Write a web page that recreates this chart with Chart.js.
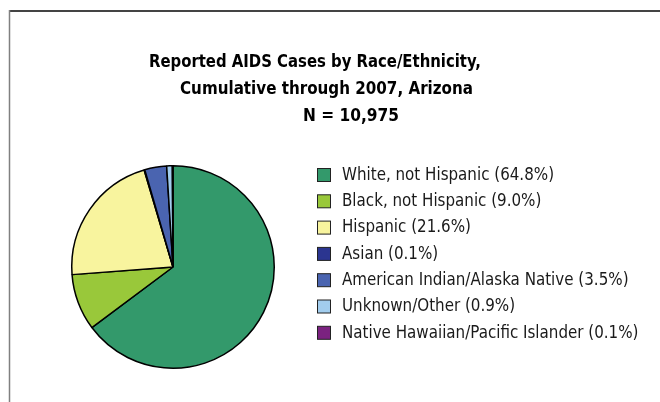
<!DOCTYPE html>
<html>
<head>
<meta charset="utf-8">
<script src="https://cdn.jsdelivr.net/npm/chart.js@4/dist/chart.umd.min.js"></script>
<style>
  html, body { margin: 0; padding: 0; background: #fff; }
  #wrap { width: 660px; height: 402px; position: relative; }
</style>
</head>
<body>
<div id="wrap"><canvas id="c" width="660" height="402"></canvas></div>
<script>
const titleLines = ['Reported AIDS Cases by Race/Ethnicity,', 'Cumulative through 2007, Arizona', 'N = 10,975'];
const categories = ['White, not Hispanic', 'Black, not Hispanic', 'Hispanic', 'Asian', 'American Indian/Alaska Native', 'Unknown/Other', 'Native Hawaiian/Pacific Islander'];
const percents = [64.8, 9.0, 21.6, 0.1, 3.5, 0.9, 0.1];
const colors = ['#33996b', '#99c83a', '#f8f49e', '#2b3590', '#4a64b0', '#a2cdee', '#7b2280'];

const FONT = '"Liberation Sans Narrow", "DejaVu Sans Condensed", "Roboto Condensed", sans-serif';

const framePlugin = {
  id: 'frame',
  beforeDraw(chart) {
    const ctx = chart.ctx;
    ctx.save();
    ctx.strokeStyle = '#444';
    ctx.lineWidth = 2;
    ctx.beginPath(); ctx.moveTo(9, 11); ctx.lineTo(660, 11); ctx.stroke();
    ctx.strokeStyle = '#808080';
    ctx.lineWidth = 1.5;
    ctx.beginPath(); ctx.moveTo(9.5, 10); ctx.lineTo(9.5, 402); ctx.stroke();
    ctx.restore();
  }
};

const textPlugin = {
  id: 'texts',
  afterDraw(chart) {
    const ctx = chart.ctx;
    ctx.save();
    // title
    ctx.fillStyle = '#000';
    ctx.font = 'bold 18px ' + FONT;
    ctx.textBaseline = 'alphabetic';
    ctx.textAlign = 'center';
    const cx = [315, 326.5, 351];
    const by = [66.5, 93.5, 120.5];
    const mw = [332, 293, 96];
    titleLines.forEach((t, i) => ctx.fillText(t, cx[i], by[i], mw[i]));
    // legend
    ctx.textAlign = 'left';
    ctx.textBaseline = 'alphabetic';
    ctx.font = '17px ' + FONT;
    categories.forEach((cat, i) => {
      const y = 175 + i * 26.3;
      ctx.fillStyle = colors[i];
      ctx.fillRect(317.5, y - 6.5, 13, 13);
      ctx.strokeStyle = '#222';
      ctx.lineWidth = 1;
      ctx.strokeRect(317.5, y - 6.5, 13, 13);
      ctx.fillStyle = '#1a1a1a';
      const label = cat + ' (' + percents[i].toFixed(1) + '%)';
      const w = ctx.measureText(label).width;
      ctx.fillText(label, 342, y + 4.8, w * 0.988);
    });
    ctx.restore();
  }
};

new Chart(document.getElementById('c'), {
  type: 'pie',
  data: {
    labels: categories,
    datasets: [{
      data: percents,
      backgroundColor: colors,
      borderColor: '#000',
      borderWidth: 1.5
    }]
  },
  options: {
    responsive: false,
    animation: false,
    layout: { padding: { left: 71, top: 164, right: 385, bottom: 32 } },
    plugins: {
      legend: { display: false },
      tooltip: { enabled: false },
      title: { display: false }
    }
  },
  plugins: [framePlugin, textPlugin]
});
</script>
</body>
</html>
